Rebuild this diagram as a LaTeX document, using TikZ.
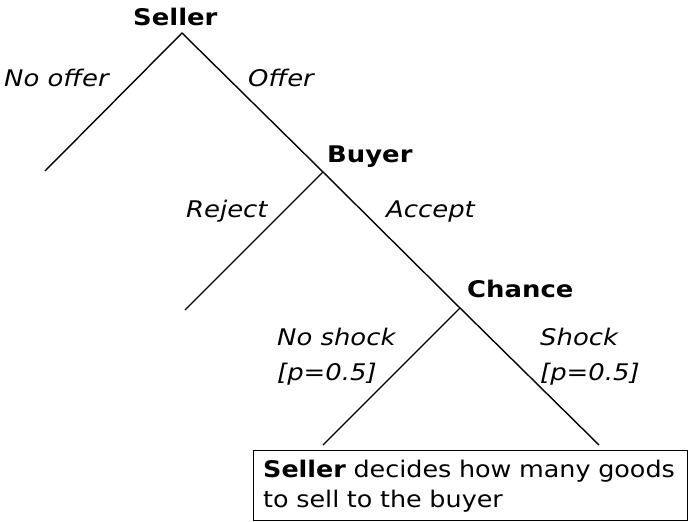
\documentclass[tikz,border=0pt]{standalone}
\usepackage{fontspec}
\setmainfont{DejaVu Sans}[FakeStretch=1.13]
\newfontfamily\stagefont{DejaVu Sans}[FakeStretch=1.11]
\tikzset{
  player/.style={font=\bfseries, anchor=base west, inner sep=0pt},
  move/.style={font=\itshape, anchor=base west, inner sep=0pt, align=left},
  branch/.style={line width=1.4pt},
}
\begin{document}
\fontsize{22.9}{27}\selectfont
\begin{tikzpicture}[x=1pt, y=-1pt]
  \useasboundingbox (0, 0) rectangle (688, 522);

  \coordinate (seller) at (182, 33);
  \coordinate (nooffer) at (45, 171);
  \coordinate (buyer) at (323, 172);
  \coordinate (reject) at (185, 310);
  \coordinate (chance) at (460, 308);
  \coordinate (noshock) at (323, 445);
  \coordinate (shock) at (599, 445);

  \node[player] (sellerlbl) at (133, 25) {Seller};
  \node[player] (buyerlbl) at (327, 162) {Buyer};
  \node[player] (chancelbl) at (467, 297) {Chance};

  \node[move] (noofferlbl) at (4, 86) {No offer};
  \node[move] (offerlbl) at (248, 86) {Offer};
  \node[move] (rejectlbl) at (186, 217) {Reject};
  \node[move] (acceptlbl) at (386, 217) {Accept};
  \node[move, anchor=north west] (noshocklbl) at (277, 328) {No shock\\[8pt]{[}p=0.5{]}};
  \node[move, anchor=north west] (shocklbl) at (540, 328) {Shock\\[8pt]{[}p=0.5{]}};

  \draw[branch] (nooffer) -- (seller) -- (buyer);
  \draw[branch] (reject) -- (buyer) -- (chance);
  \draw[branch] (noshock) -- (chance) -- (shock);

  \node[draw, line width=1.4pt, anchor=north west, minimum width=434pt, minimum height=70pt,
    text width=414pt, inner xsep=10pt, align=left, font=\stagefont] (stage) at (252.5, 450)
    {\textbf{Seller} decides how many goods\\[3pt]to sell to the buyer};
\end{tikzpicture}
\end{document}
